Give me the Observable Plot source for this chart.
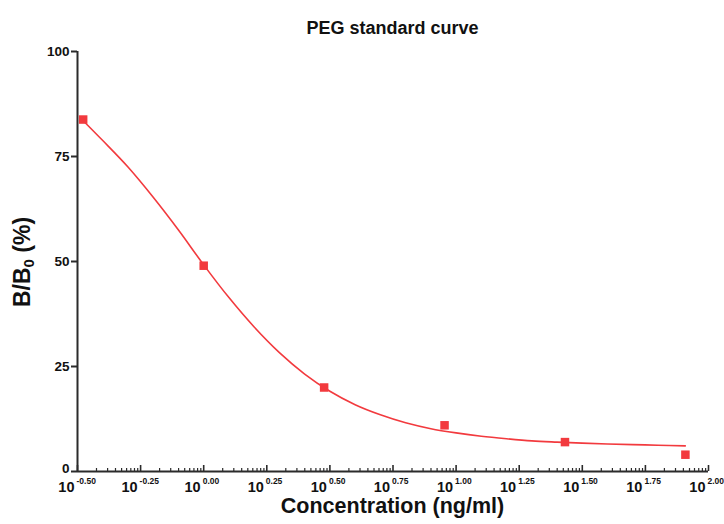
<!DOCTYPE html>
<html>
<head>
<meta charset="utf-8">
<script src="https://cdn.jsdelivr.net/npm/d3@7"></script>
<script src="https://cdn.jsdelivr.net/npm/@observablehq/plot@0.6"></script>
<style>
  body { margin: 0; background: #fff; font-family: "Liberation Sans", Arial, Helvetica, sans-serif; }
  #wrap { position: relative; width: 724px; height: 524px; overflow: hidden; }
  #title { height: 40px; width: 724px; box-sizing: border-box; padding-left: 77px; padding-right: 16px; text-align: center; font-weight: bold; font-size: 18px; line-height: 18px; padding-top: 19px; color: #111; }
  #ylab { position: absolute; left: 22px; top: 262px; transform: translate(-50%, -50%) rotate(-90deg); font-weight: bold; font-size: 23px; white-space: nowrap; color: #111; }
  #ylab sub { font-size: 15px; vertical-align: -4px; line-height: 0; }
  #xlab { position: absolute; left: 77px; width: 631px; top: 494px; text-align: center; font-weight: bold; font-size: 21.5px; color: #111; }
</style>
</head>
<body>
<div id="wrap">
  <div id="title">PEG standard curve</div>
  <div id="chart"></div>
  <div id="ylab">B/B<sub>0</sub> (%)</div>
  <div id="xlab">Concentration (ng/ml)</div>
</div>
<script>
// Measured standards
const concentration = [0.333, 1, 3, 9, 27, 81];
const bb0 = [83.8, 49, 20, 11, 7, 4];

// Fitted curve (log10 of concentration, B/B0 %)
const curveLogConc = [-0.477, -0.4, -0.3, -0.2, -0.1, 0, 0.1, 0.2, 0.3, 0.4, 0.5, 0.6, 0.7, 0.8, 0.9, 1.0, 1.1, 1.2, 1.3, 1.4, 1.5, 1.6, 1.7, 1.8, 1.908];
const curveBB0 = [83.5, 78.8, 72.5, 65.3, 57.5, 49.2, 41.4, 34.4, 28.3, 23.2, 19.1, 15.9, 13.5, 11.6, 10.2, 9.2, 8.4, 7.8, 7.3, 7.0, 6.75, 6.55, 6.4, 6.25, 6.1];

// Axis ticks
const majorExponents = [-0.5, -0.25, 0, 0.25, 0.5, 0.75, 1, 1.25, 1.5, 1.75, 2];
const minorSteps = [2, 3, 4, 5, 6, 7, 8, 9];
const yTicks = [0, 25, 50, 75, 100];

const red = "#f23a3e";
const axisColor = "#2b2b2b";

const points = concentration.map((c, i) => ({c, v: bb0[i]}));
const curve = curveLogConc.map((l, i) => ({c: 10 ** l, v: curveBB0[i]}));
const majorTicks = majorExponents.map(e => 10 ** e);
const minorTicks = majorExponents.slice(0, -1).flatMap(e => minorSteps.map(k => 10 ** (e + 0.25 * Math.log10(k))));

const chart = Plot.plot({
  width: 724,
  height: 484,
  marginLeft: 77,
  marginRight: 16,
  marginTop: 11,
  marginBottom: 53,
  style: {fontFamily: '"Liberation Sans", Arial, Helvetica, sans-serif', color: axisColor, background: "white", overflow: "visible"},
  x: {type: "log", domain: [10 ** -0.5, 100], label: null},
  y: {domain: [0, 100], label: null},
  marks: [
    // y ticks and labels (the "0" label is lifted slightly off the x tick labels)
    Plot.axisY(yTicks, {tickSize: 6, strokeWidth: 2, fill: "none", label: null}),
    Plot.axisY(yTicks.filter(d => d !== 0), {tickSize: 0, tickPadding: 8, fontSize: 13.5, fontWeight: "bold", label: null, fill: "#111"}),
    Plot.axisY(yTicks.filter(d => d === 0), {tickSize: 0, tickPadding: 8, fontSize: 13.5, fontWeight: "bold", label: null, fill: "#111", dy: -3}),
    Plot.axisX(minorTicks, {tickSize: 3, dy: -3, fill: "none", strokeWidth: 1.2, label: null}),
    Plot.axisX(majorTicks, {tickSize: 6, dy: -6, fill: "none", strokeWidth: 1.6, label: null}),
    Plot.ruleX([10 ** -0.5], {stroke: axisColor, strokeWidth: 2}),
    Plot.ruleY([0], {stroke: axisColor, strokeWidth: 2}),
    Plot.text(majorExponents, {x: e => 10 ** e, y: 0, text: () => "10", textAnchor: "end", dx: -3, dy: 16, fontSize: 14.5, fontWeight: "bold", fill: "#111"}),
    Plot.text(majorExponents, {x: e => 10 ** e, y: 0, text: e => e.toFixed(2), textAnchor: "start", dx: -1, dy: 10, fontSize: 8.5, fontWeight: "bold", fill: "#111"}),
    Plot.line(curve, {x: "c", y: "v", stroke: red, strokeWidth: 1.6, curve: "monotone-x"}),
    Plot.dot(points, {x: "c", y: "v", symbol: "square", r: 4.8, fill: red, stroke: "none"})
  ]
});
document.getElementById("chart").appendChild(chart);
</script>
</body>
</html>
